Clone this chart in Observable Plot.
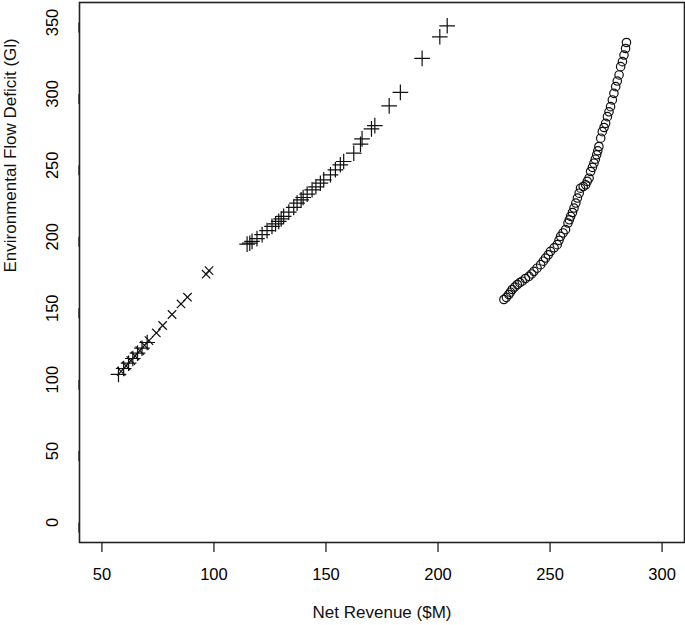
<!DOCTYPE html>
<html>
<head>
<meta charset="utf-8">
<script src="https://cdn.jsdelivr.net/npm/d3@7"></script>
<script src="https://cdn.jsdelivr.net/npm/@observablehq/plot@0.6"></script>
<style>
  html, body { margin: 0; padding: 0; background: #fff; }
  #chart svg { display: block; font-family: "Liberation Sans", Arial, Helvetica, sans-serif; }
</style>
</head>
<body>
<div id="chart"></div>
<script>
// Series 1 ("+" markers)
const plusX = [57.4, 59.7, 61.9, 63.8, 65.9, 67.9, 70.2,
  114.8, 116.0, 117.0, 119.2, 121.5, 123.7, 125.9, 127.5, 128.9, 130.0, 131.1, 133.4, 135.6, 137.1, 138.9, 139.8,
  141.6, 143.8, 145.5, 147.5, 149.0, 152.0, 154.2, 156.4, 157.9, 162.4, 165.4, 166.1, 170.3, 171.8,
  178.2, 183.2, 192.9, 200.8, 204.1];
const plusY = [103.7, 107.8, 111.5, 114.8, 118.5, 122.0, 126.0,
  194.9, 195.5, 196.8, 198.7, 201.5, 204.3, 207.3, 209.0, 210.8, 212.5, 214.3, 217.3, 220.6, 223.6, 225.9, 227.5,
  229.8, 232.9, 235.0, 237.5, 239.9, 243.4, 246.9, 250.4, 252.7, 258.5, 264.8, 268.5, 275.5, 277.8,
  291.6, 301.1, 324.9, 340.0, 347.7];

// Series 2 ("x" markers)
const timesX = [58.6, 60.8, 62.9, 64.8, 66.9, 69.0, 71.0, 74.3, 77.1, 81.3, 85.3, 88.2, 96.5, 97.8];
const timesY = [105.8, 109.6, 113.3, 116.6, 120.3, 124.0, 127.3, 132.7, 137.9, 145.6, 153.0, 157.7, 173.8, 176.3];

// Series 3 (open circles)
const circX = [229.4, 230.5, 231.6, 232.3, 233.1, 234.2, 235.4, 236.5, 237.6, 239.0, 240.6, 241.8, 242.8, 244.2,
  245.8, 247.0, 248.0, 249.2, 250.2, 251.8, 253.2, 254.0, 254.7, 255.8, 256.9, 258.0, 258.6, 259.2, 260.0,
  260.7, 261.5, 262.2, 263.0, 263.6, 264.8, 265.9, 266.6, 267.4, 268.1, 268.9, 269.6, 270.2, 270.8, 271.3,
  271.8, 272.6, 273.3, 274.1, 274.8, 275.6, 276.3, 277.0, 277.8, 278.5, 279.3, 280.0, 280.8, 281.5, 282.3,
  283.0, 283.7, 284.1];
const circY = [156.1, 157.6, 159.6, 161.2, 163.1, 164.8, 166.6, 167.9, 168.9, 170.8, 172.3, 174.0, 175.8, 178.0,
  180.5, 182.9, 185.1, 187.4, 189.8, 192.3, 194.5, 197.5, 200.3, 202.7, 205.0, 209.6, 211.9, 214.3, 217.0,
  220.1, 223.6, 227.1, 230.5, 234.0, 235.2, 236.4, 238.8, 241.0, 245.7, 248.6, 251.5, 254.3, 257.4, 260.2,
  263.2, 269.0, 273.6, 276.5, 279.4, 284.1, 287.5, 291.1, 295.8, 300.4, 305.1, 309.0, 313.3, 319.1, 322.6,
  327.2, 331.8, 336.0];

const xTicks = [50, 100, 150, 200, 250, 300];
const yTicks = [0, 50, 100, 150, 200, 250, 300, 350];
const xTitle = "Net Revenue ($M)";
const yTitle = "Environmental Flow Deficit (Gl)";

const plusData = plusX.map((x, i) => ({x, y: plusY[i]}));
const timesData = timesX.map((x, i) => ({x, y: timesY[i]}));
const circData = circX.map((x, i) => ({x, y: circY[i]}));

const chart = Plot.plot({
  width: 685,
  height: 625,
  marginLeft: 79,
  marginRight: 1,
  marginTop: 2,
  marginBottom: 83,
  style: {fontFamily: '"Liberation Sans", Arial, Helvetica, sans-serif', background: "#fff", color: "#000"},
  x: {domain: [40, 310]},
  y: {domain: [-14, 364]},
  marks: [
    Plot.axisX({ticks: xTicks, tickSize: 10, tickPadding: 16, fontSize: 16.5, label: null, stroke: "#222", strokeWidth: 1.3}),
    Plot.axisY({ticks: yTicks, tickSize: 10, tickPadding: 12, fontSize: 16.5, label: null, rotate: -90,
      textAnchor: "middle", lineAnchor: "bottom", stroke: "#222", strokeWidth: 1.3}),
    Plot.frame({stroke: "#222", strokeWidth: 1.6}),
    Plot.dot(plusData, {x: "x", y: "y", symbol: "plus", r: 5.1, stroke: "#111", strokeWidth: 1.2}),
    Plot.dot(timesData, {x: "x", y: "y", symbol: "times", r: 3.9, stroke: "#111", strokeWidth: 1.2}),
    Plot.dot(circData, {x: "x", y: "y", symbol: "circle", r: 4.2, stroke: "#111", strokeWidth: 1.2, fill: "none"}),
    Plot.text([xTitle], {frameAnchor: "bottom", dy: 75, fontSize: 17, fill: "#111"}),
    Plot.text([yTitle], {frameAnchor: "left", dx: -69, rotate: -90, fontSize: 17, fill: "#111"})
  ]
});
document.getElementById("chart").appendChild(chart);
</script>
</body>
</html>
